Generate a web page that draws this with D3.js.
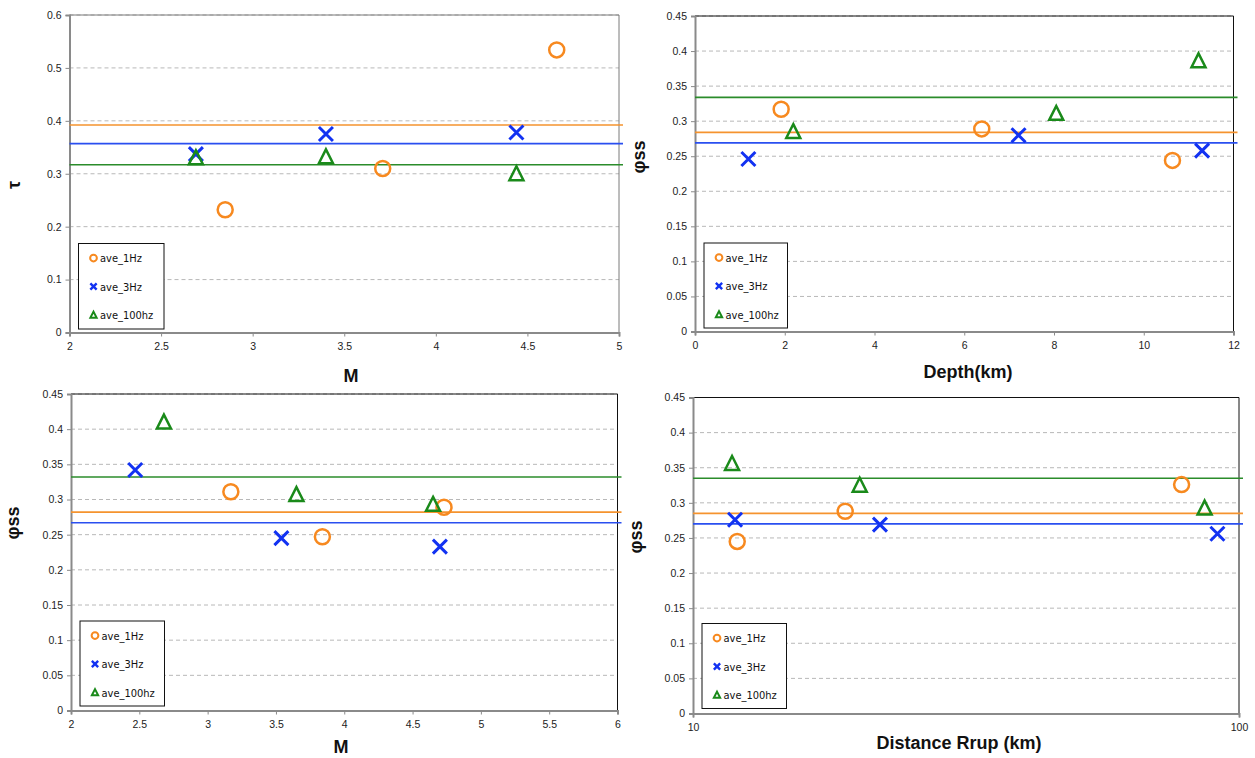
<!DOCTYPE html>
<html>
<head>
<meta charset="utf-8">
<script src="https://cdn.jsdelivr.net/npm/d3@7"></script>
<style>
  body { margin: 0; background: #fff; }
  svg { display: block; }
  .tick text { font-family: "Liberation Sans", Arial, sans-serif; font-size: 10.5px; fill: #222; }
  .title { font-family: "Liberation Sans", Arial, sans-serif; font-weight: bold; font-size: 18px; fill: #111; }
  .legend text { font-family: "Liberation Sans Narrow", "DejaVu Sans Condensed", Arial, sans-serif; font-size: 11px; fill: #111; }
</style>
</head>
<body>
<svg id="chart" width="1255" height="758"></svg>
<script>
// series names
var seriesNames = ["ave_1Hz", "ave_3Hz", "ave_100hz"];

// tau vs M (top left)
var tauM_x1 = [2.85, 3.71, 4.66],    tauM_y1 = [0.232, 0.310, 0.534];
var tauM_x3 = [2.69, 3.40, 4.44],    tauM_y3 = [0.337, 0.375, 0.378];
var tauM_x100 = [2.69, 3.40, 4.44],  tauM_y100 = [0.330, 0.332, 0.300];
var tauM_avg = [0.392, 0.357, 0.317];
var tauM_yTicks = [0, 0.1, 0.2, 0.3, 0.4, 0.5, 0.6];
var tauM_xTicks = [2, 2.5, 3, 3.5, 4, 4.5, 5];

// phi vs depth (top right)
var phiD_x1 = [1.92, 6.39, 10.64],   phiD_y1 = [0.317, 0.289, 0.244];
var phiD_x3 = [1.19, 7.21, 11.30],   phiD_y3 = [0.246, 0.280, 0.258];
var phiD_x100 = [2.19, 8.05, 11.22], phiD_y100 = [0.285, 0.311, 0.386];
var phiD_avg = [0.284, 0.269, 0.334];
var phiD_xTicks = [0, 2, 4, 6, 8, 10, 12];

// phi vs M (bottom left)
var phiM_x1 = [3.17, 3.84, 4.73],    phiM_y1 = [0.311, 0.247, 0.289];
var phiM_x3 = [2.47, 3.54, 4.70],    phiM_y3 = [0.342, 0.245, 0.233];
var phiM_x100 = [2.68, 3.65, 4.65],  phiM_y100 = [0.410, 0.307, 0.293];
var phiM_avg = [0.282, 0.267, 0.332];
var phiM_xTicks = [2, 2.5, 3, 3.5, 4, 4.5, 5, 5.5, 6];

// phi vs Rrup (bottom right)
var phiR_x1 = [12.05, 19.0, 78.5],   phiR_y1 = [0.245, 0.288, 0.326];
var phiR_x3 = [11.94, 22.0, 91.3],   phiR_y3 = [0.276, 0.269, 0.256];
var phiR_x100 = [11.79, 20.2, 86.5], phiR_y100 = [0.356, 0.325, 0.2925];
var phiR_avg = [0.285, 0.270, 0.335];
var phiR_xTicks = [10, 100];

var phi_yTicks = [0, 0.05, 0.1, 0.15, 0.2, 0.25, 0.3, 0.35, 0.4, 0.45];

var colors = ["#f7891f", "#1232f2", "#1a8a1a"];
var lineColors = ["#f5932e", "#2a4ff0", "#2b8c2b"];

var svg = d3.select("#chart");

function drawMarker(g, i, x, y, s) {
  if (i === 0) {
    g.append("circle").attr("cx", x).attr("cy", y).attr("r", 7.5 * s)
      .attr("fill", "none").attr("stroke", colors[0]).attr("stroke-width", 2.5 * Math.max(s, 0.8));
  } else if (i === 1) {
    var h = 7 * s;
    g.append("path")
      .attr("d", "M" + (x - h) + "," + (y - h) + "L" + (x + h) + "," + (y + h) +
                 "M" + (x - h) + "," + (y + h) + "L" + (x + h) + "," + (y - h))
      .attr("stroke", colors[1]).attr("stroke-width", 3 * Math.max(s, 0.8)).attr("fill", "none");
  } else {
    var w = 7 * s, t = 7.5 * s;
    g.append("path")
      .attr("d", "M" + x + "," + (y - t) + "L" + (x + w) + "," + (y + t * 0.85) + "L" + (x - w) + "," + (y + t * 0.85) + "Z")
      .attr("stroke", colors[2]).attr("stroke-width", 2.5 * Math.max(s, 0.8)).attr("fill", "none")
      .attr("stroke-linejoin", "miter");
  }
}

function drawPanel(cfg) {
  var x = (cfg.log ? d3.scaleLog() : d3.scaleLinear())
    .domain(cfg.xDomain).range([cfg.left, cfg.right]);
  var y = d3.scaleLinear().domain(cfg.yDomain).range([cfg.bottom, cfg.top]);
  var g = svg.append("g");

  // gridlines
  g.append("g").selectAll("line")
    .data(cfg.yTicks.filter(function (d) { return d > 0; }))
    .enter().append("line")
    .attr("x1", cfg.left).attr("x2", cfg.right)
    .attr("y1", function (d) { return y(d); }).attr("y2", function (d) { return y(d); })
    .attr("stroke", "#b8b8b8").attr("stroke-dasharray", "4,3");

  // frame (top/right)
  g.append("path")
    .attr("d", "M" + cfg.left + "," + cfg.top + "H" + cfg.right + "V" + cfg.bottom)
    .attr("fill", "none").attr("stroke", cfg.frameColor).attr("stroke-width", 1);

  // axes
  var yAxis = d3.axisLeft(y).tickValues(cfg.yTicks).tickSize(4).tickPadding(4)
    .tickFormat(function (d) { return String(d); });
  var xAxis = d3.axisBottom(x).tickValues(cfg.xTicks).tickSize(4).tickPadding(6)
    .tickFormat(function (d) { return String(d); });

  var ya = g.append("g").attr("transform", "translate(" + cfg.left + ",0)").call(yAxis);
  var xa = g.append("g").attr("transform", "translate(0," + cfg.bottom + ")").call(xAxis);
  [ya, xa].forEach(function (a) {
    a.select(".domain").attr("stroke", "#8a8a8a").attr("stroke-width", 2);
    a.selectAll(".tick line").attr("stroke", "#8a8a8a");
  });

  // average lines
  cfg.avg.forEach(function (v, i) {
    g.append("line")
      .attr("x1", cfg.left).attr("x2", cfg.right + 4)
      .attr("y1", y(v)).attr("y2", y(v))
      .attr("stroke", lineColors[i]).attr("stroke-width", 1.6);
  });

  // points
  cfg.series.forEach(function (s, i) {
    s.x.forEach(function (xv, k) {
      drawMarker(g, i, x(xv), y(s.y[k]), 1);
    });
  });

  // legend
  var lg = g.append("g").attr("class", "legend");
  lg.append("rect")
    .attr("x", cfg.legend[0]).attr("y", cfg.legend[1])
    .attr("width", cfg.legend[2]).attr("height", cfg.legend[3])
    .attr("fill", "#fff").attr("stroke", "#111").attr("stroke-width", 1);
  seriesNames.forEach(function (name, i) {
    var ly = cfg.legend[1] + 14.5 + i * 28.5;
    drawMarker(lg, i, cfg.legend[0] + 15, ly, 0.45);
    lg.append("text")
      .attr("x", cfg.legend[0] + 21.5).attr("y", ly + 4)
      .text(name);
  });

  // titles
  g.append("text").attr("class", "title")
    .attr("x", cfg.xTitle[0]).attr("y", cfg.xTitle[1])
    .attr("text-anchor", "middle").text(cfg.xLabel);
  g.append("text").attr("class", "title")
    .attr("transform", "translate(" + cfg.yTitle[0] + "," + cfg.yTitle[1] + ") rotate(-90)")
    .attr("text-anchor", "middle").text(cfg.yLabel);
}

drawPanel({
  left: 69.5, right: 619, top: 15, bottom: 332.5,
  xDomain: [2, 5], yDomain: [0, 0.6], xTicks: tauM_xTicks, yTicks: tauM_yTicks,
  series: [{x: tauM_x1, y: tauM_y1}, {x: tauM_x3, y: tauM_y3}, {x: tauM_x100, y: tauM_y100}],
  avg: tauM_avg, frameColor: "#7a7a7a",
  legend: [78.5, 243.5, 85.5, 85.5],
  xLabel: "M", xTitle: [351, 382], yLabel: "τ", yTitle: [20, 185]
});

drawPanel({
  left: 695, right: 1233.5, top: 16, bottom: 331.5,
  xDomain: [0, 12], yDomain: [0, 0.45], xTicks: phiD_xTicks, yTicks: phi_yTicks,
  series: [{x: phiD_x1, y: phiD_y1}, {x: phiD_x3, y: phiD_y3}, {x: phiD_x100, y: phiD_y100}],
  avg: phiD_avg, frameColor: "#111",
  legend: [704, 243, 83.5, 85],
  xLabel: "Depth(km)", xTitle: [968, 378], yLabel: "φss", yTitle: [645, 157]
});

drawPanel({
  left: 71, right: 617.5, top: 394, bottom: 710.5,
  xDomain: [2, 6], yDomain: [0, 0.45], xTicks: phiM_xTicks, yTicks: phi_yTicks,
  series: [{x: phiM_x1, y: phiM_y1}, {x: phiM_x3, y: phiM_y3}, {x: phiM_x100, y: phiM_y100}],
  avg: phiM_avg, frameColor: "#111",
  legend: [80, 621, 84.5, 85],
  xLabel: "M", xTitle: [341, 753], yLabel: "φss", yTitle: [19, 523]
});

drawPanel({
  left: 693, right: 1239, top: 397.5, bottom: 713.5, log: true,
  xDomain: [10, 100], yDomain: [0, 0.45], xTicks: phiR_xTicks, yTicks: phi_yTicks,
  series: [{x: phiR_x1, y: phiR_y1}, {x: phiR_x3, y: phiR_y3}, {x: phiR_x100, y: phiR_y100}],
  avg: phiR_avg, frameColor: "#111",
  legend: [702, 623.5, 84.5, 85],
  xLabel: "Distance Rrup (km)", xTitle: [959, 749], yLabel: "φss", yTitle: [642, 537]
});
</script>
</body>
</html>
